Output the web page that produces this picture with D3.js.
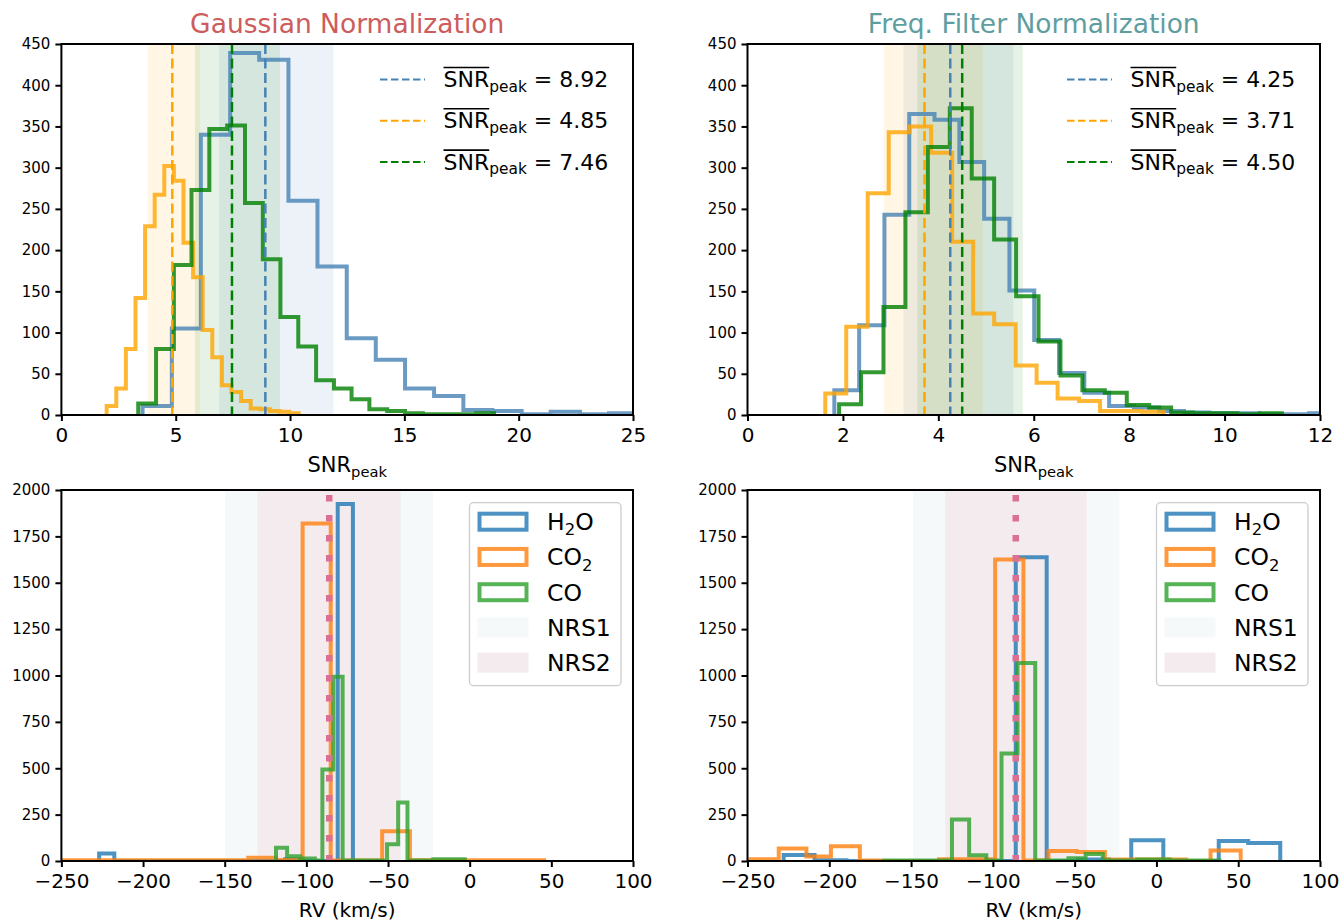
<!DOCTYPE html>
<html>
<head>
<meta charset="utf-8">
<script src="https://cdn.jsdelivr.net/npm/d3@7"></script>
<style>
  body { margin: 0; background: #fff; }
  svg { font-family: "DejaVu Sans", sans-serif; }
</style>
</head>
<body>
<svg id="fig" width="1343" height="921"></svg>
<script>
// ---------------------------------------------------------------------------
// data
// ---------------------------------------------------------------------------

// top row: SNR_peak histograms (blue = H2O, orange = CO2, green = CO)
const gaussSnrEdgesH2O = [3.55, 4.83, 6.10, 7.38, 8.65, 9.93, 11.20, 12.48, 13.75, 15.03, 16.30, 17.58, 18.85, 20.13, 21.40, 22.68, 23.95, 25.23]
const gaussSnrCountsH2O = [11, 105, 340, 439, 431, 260, 180, 93, 67, 32, 23, 6, 5, 1, 4, 1, 2]
const gaussSnrEdgesCO2 = [1.98, 2.40, 2.82, 3.24, 3.66, 4.08, 4.50, 4.92, 5.34, 5.76, 6.18, 6.60, 7.02, 7.44, 7.86, 8.28, 8.70, 9.12, 9.54, 9.96, 10.38]
const gaussSnrCountsCO2 = [11, 32, 80, 142, 229, 267, 302, 284, 209, 167, 103, 70, 36, 28, 17, 8, 7, 5, 4, 2]
const gaussSnrEdgesCO = [3.36, 4.14, 4.92, 5.69, 6.47, 7.25, 8.03, 8.81, 9.58, 10.36, 11.14, 11.92, 12.69, 13.47, 14.25, 15.03, 15.81, 16.58, 17.36, 18.14, 18.92]
const gaussSnrCountsCO = [14, 80, 182, 273, 347, 351, 257, 189, 119, 83, 42, 32, 19, 7, 5, 2, 1, 1, 1, 2]

const freqSnrEdgesH2O = [1.82, 2.34, 2.87, 3.39, 3.92, 4.44, 4.96, 5.49, 6.01, 6.53, 7.06, 7.58, 8.10, 8.63, 9.15, 9.68, 10.20, 10.72, 11.25, 11.77, 12.29]
const freqSnrCountsH2O = [30, 109, 243, 365, 358, 307, 238, 151, 91, 51, 27, 11, 9, 5, 3, 2, 2, 1, 1, 2]
const freqSnrEdgesCO2 = [1.63, 2.07, 2.52, 2.96, 3.40, 3.85, 4.29, 4.73, 5.17, 5.62, 6.06, 6.50, 6.95, 7.39, 7.83, 8.27, 8.72]
const freqSnrCountsCO2 = [26, 107, 269, 343, 350, 318, 210, 123, 110, 60, 39, 20, 17, 5, 5, 4]
const freqSnrEdgesCO = [1.92, 2.38, 2.85, 3.31, 3.78, 4.24, 4.70, 5.17, 5.63, 6.10, 6.56, 7.02, 7.49, 7.95, 8.42, 8.88, 9.34, 9.81, 10.27, 10.74, 11.20]
const freqSnrCountsCO = [13, 52, 131, 246, 325, 372, 287, 213, 144, 89, 48, 30, 27, 12, 9, 3, 2, 2, 1, 2]

// mean SNR_peak per species (H2O, CO2, CO) and shaded spread [lo, hi]
const gaussSnrMeans = [8.92, 4.85, 7.46]
const freqSnrMeans = [4.25, 3.71, 4.50]
const gaussSnrSpread = [[6.90, 11.90], [3.77, 6.07], [5.84, 9.56]]
const freqSnrSpread = [[3.27, 5.57], [2.86, 4.93], [3.56, 5.77]]

// bottom row: RV histograms (runs of equal-count bins merged)
const gaussRvEdgesH2O = [-226.9, -217.6, -113.0, -104.0, -80.8, -71.5]
const gaussRvCountsH2O = [40, 0, 10, 0, 1925]
const gaussRvEdgesCO2 = [-250.0, -135.6, -118.6, -102.3, -85.1, -53.6, -36.6, 45.6]
const gaussRvCountsCO2 = [4, 18, 6, 1820, 3, 160, 4]
const gaussRvEdgesCO = [-118.6, -111.8, -103.8, -94.8, -90.2, -83.5, -77.8, -50.6, -43.8, -38.1, -22.3, -3.0]
const gaussRvCountsCO = [72, 25, 14, 3, 493, 993, 3, 90, 315, 3, 9]

const freqRvEdgesH2O = [-227.9, -209.0, -189.5, -86.0, -67.1, -48.0, -29.0, -15.4, 4.2, 38.1, 56.1, 75.7]
const freqRvCountsH2O = [32, 4, 0, 1637, 0, 8, 0, 112, 0, 108, 97]
const freqRvEdgesCO2 = [-248.2, -230.9, -214.0, -199.0, -181.3, -168.6, -132.9, -98.6, -81.3, -66.0, -48.8, -31.5, 18.0, 33.1, 51.5]
const freqRvCountsCO2 = [10, 68, 24, 80, 3, 0, 10, 1626, 3, 54, 48, 8, 0, 56]
const freqRvEdgesCO = [-166.4, -125.0, -114.5, -104.0, -94.7, -84.9, -74.1, -53.8, -43.3, -32.8, -11.8, 8.1, 38.5]
const freqRvCountsCO = [3, 224, 31, 3, 579, 1068, 3, 15, 38, 3, 8, 3]

// detector RV ranges [lo, hi] and reference RV
const gaussNrs1 = [-149.7, -22.4]
const gaussNrs2 = [-130.0, -42.3]
const freqNrs1 = [-148.9, -22.7]
const freqNrs2 = [-129.2, -42.6]
const rvSystemic = -86.0

// axes ticks and labels
const snrTicksGauss = [0, 5, 10, 15, 20, 25]
const snrTicksFreq = [0, 2, 4, 6, 8, 10, 12]
const countTicksSnr = [0, 50, 100, 150, 200, 250, 300, 350, 400, 450]
const rvTicks = [-250, -200, -150, -100, -50, 0, 50, 100]
const countTicksRv = [0, 250, 500, 750, 1000, 1250, 1500, 1750, 2000]
const panelTitles = ['Gaussian Normalization', 'Freq. Filter Normalization']
const speciesLabels = [['H', '2', 'O'], ['CO', '2', ''], ['CO', '', '']]
const bandLabels = ['NRS1', 'NRS2']

// ---------------------------------------------------------------------------
// styling
// ---------------------------------------------------------------------------
const snrColors = ['#4682b4', '#ffa500', '#008000']      // steelblue, orange, green
const rvColors = ['#1f77b4', '#ff7f0e', '#2ca02c']       // tab10
const titleColors = ['#cd5c5c', '#5f9ea0']
const nrsColors = ['#f5f9fa', '#f4ebef']
const sysColor = '#db7093'

const COLS = [[61.4, 633], [747.5, 1320]]
const ROWS = [[44, 415], [490, 861]]

const svg = d3.select('#fig')
const fmtTick = d3.format('d')   // plain integers, no thousands separator

// step outline of a histogram, like histtype='step'
const stepPath = (x, y, edges, counts) => {
    const pts = [[edges[0], 0]]
    counts.forEach((c, i) => { pts.push([edges[i], c], [edges[i + 1], c]) })
    pts.push([edges[edges.length - 1], 0])
    return d3.line().x(d => x(d[0])).y(d => y(d[1]))(pts)
}

let clipCount = 0
const newPanel = (col, row, xDomain, yDomain) => {
    const [x0, x1] = COLS[col]
    const [y0, y1] = ROWS[row]
    const x = d3.scaleLinear().domain(xDomain).range([x0, x1])
    const y = d3.scaleLinear().domain(yDomain).range([y1, y0])
    const id = `clip-${clipCount++}`
    svg.append('clipPath').attr('id', id).append('rect')
        .attr('x', x0).attr('y', y0).attr('width', x1 - x0).attr('height', y1 - y0)
    const plot = svg.append('g').attr('clip-path', `url(#${id})`)
    return { x, y, plot, x0, x1, y0, y1 }
}

const drawAxes = (p, xTicks, yTicks) => {
    const gx = svg.append('g').attr('transform', `translate(0,${p.y1})`)
        .call(d3.axisBottom(p.x).tickValues(xTicks).tickFormat(fmtTick)
            .tickSize(6).tickSizeOuter(0).tickPadding(7))
    gx.selectAll('text').attr('font-size', 20).attr('font-family', 'DejaVu Sans').attr('fill', '#000')
    const gy = svg.append('g').attr('transform', `translate(${p.x0},0)`)
        .call(d3.axisLeft(p.y).tickValues(yTicks).tickFormat(fmtTick)
            .tickSize(6).tickSizeOuter(0).tickPadding(5))
    gy.selectAll('text').attr('font-size', 15).attr('font-family', 'DejaVu Sans').attr('fill', '#000')
    svg.selectAll('.domain').remove()
    ;[gx, gy].forEach(g => g.selectAll('.tick line').attr('stroke', '#000').attr('stroke-width', 2))
    // frame, all four spines
    svg.append('rect')
        .attr('x', p.x0).attr('y', p.y0)
        .attr('width', p.x1 - p.x0).attr('height', p.y1 - p.y0)
        .attr('fill', 'none').attr('stroke', '#000').attr('stroke-width', 2)
}

// text with a subscript part: parts = [main, sub, rest]
const subText = (sel, parts, fs) => {
    sel.append('tspan').text(parts[0])
    if (parts[1]) sel.append('tspan').attr('font-size', fs * 0.7).attr('dy', fs * 0.22).text(parts[1])
    if (parts[2]) sel.append('tspan').attr('dy', parts[1] ? -fs * 0.22 : 0).text(parts[2])
    return sel
}

// ---------------------------------------------------------------------------
// top row: SNR_peak
// ---------------------------------------------------------------------------
const snrPanel = (col, xMax, xTicks, edges, counts, means, spread) => {
    const p = newPanel(col, 0, [0, xMax], [0, 450])
    spread.forEach((s, i) => {
        p.plot.append('rect')
            .attr('x', p.x(s[0])).attr('width', p.x(s[1]) - p.x(s[0]))
            .attr('y', p.y0).attr('height', p.y1 - p.y0)
            .attr('fill', snrColors[i]).attr('fill-opacity', 0.1)
    })
    edges.forEach((e, i) => {
        p.plot.append('path')
            .attr('d', stepPath(p.x, p.y, e, counts[i]))
            .attr('fill', 'none').attr('stroke', snrColors[i])
            .attr('stroke-opacity', 0.8).attr('stroke-width', 4)
            .attr('stroke-linejoin', 'miter')
    })
    means.forEach((m, i) => {
        p.plot.append('line')
            .attr('x1', p.x(m)).attr('x2', p.x(m)).attr('y1', p.y0).attr('y2', p.y1)
            .attr('stroke', snrColors[i]).attr('stroke-width', 2.5)
            .attr('stroke-dasharray', '10 4.5')
    })
    drawAxes(p, xTicks, countTicksSnr)

    // legend, no frame
    means.forEach((m, i) => {
        const ly = 79.5 + i * 41.3
        svg.append('line')
            .attr('x1', p.x1 - 253).attr('x2', p.x1 - 208).attr('y1', ly).attr('y2', ly)
            .attr('stroke', snrColors[i]).attr('stroke-width', 2).attr('stroke-dasharray', '7.5 3.5')
        const t = svg.append('text').attr('x', p.x1 - 189.5).attr('y', ly + 7.5).attr('font-size', 22)
        subText(t, ['SNR', 'peak', ` = ${m.toFixed(2)}`], 22)
        const w = t.node().getSubStringLength(0, 3)
        svg.append('line')
            .attr('x1', p.x1 - 189.5).attr('x2', p.x1 - 189.5 + w)
            .attr('y1', ly - 12).attr('y2', ly - 12)
            .attr('stroke', '#000').attr('stroke-width', 1.6)
    })

    const xl = svg.append('text').attr('x', (p.x0 + p.x1) / 2).attr('y', 472)
        .attr('text-anchor', 'middle').attr('font-size', 21)
    subText(xl, ['SNR', 'peak', ''], 21)

    svg.append('text').attr('x', (p.x0 + p.x1) / 2).attr('y', 33)
        .attr('text-anchor', 'middle').attr('font-size', 26.5)
        .attr('fill', titleColors[col]).text(panelTitles[col])
}

snrPanel(0, 25, snrTicksGauss,
    [gaussSnrEdgesH2O, gaussSnrEdgesCO2, gaussSnrEdgesCO],
    [gaussSnrCountsH2O, gaussSnrCountsCO2, gaussSnrCountsCO],
    gaussSnrMeans, gaussSnrSpread)
snrPanel(1, 12, snrTicksFreq,
    [freqSnrEdgesH2O, freqSnrEdgesCO2, freqSnrEdgesCO],
    [freqSnrCountsH2O, freqSnrCountsCO2, freqSnrCountsCO],
    freqSnrMeans, freqSnrSpread)

// ---------------------------------------------------------------------------
// bottom row: RV
// ---------------------------------------------------------------------------
const rvPanel = (col, edges, counts, nrs) => {
    const p = newPanel(col, 1, [-250, 100], [0, 2000])
    nrs.forEach((r, i) => {
        p.plot.append('rect')
            .attr('x', p.x(r[0])).attr('width', p.x(r[1]) - p.x(r[0]))
            .attr('y', p.y0).attr('height', p.y1 - p.y0)
            .attr('fill', nrsColors[i])
    })
    edges.forEach((e, i) => {
        p.plot.append('path')
            .attr('d', stepPath(p.x, p.y, e, counts[i]))
            .attr('fill', 'none').attr('stroke', rvColors[i])
            .attr('stroke-opacity', 0.8).attr('stroke-width', 4)
    })
    p.plot.append('line')
        .attr('x1', p.x(rvSystemic)).attr('x2', p.x(rvSystemic))
        .attr('y1', p.y0).attr('y2', p.y1)
        .attr('stroke', sysColor).attr('stroke-width', 6.5)
        .attr('stroke-dasharray', '6.5 13.5').attr('stroke-dashoffset', -5)
    drawAxes(p, rvTicks, countTicksRv)

    // legend with frame
    const bx = p.x1 - 163.5, by = 502.7
    svg.append('rect').attr('x', bx).attr('y', by).attr('width', 151.5).attr('height', 183)
        .attr('rx', 4).attr('fill', '#fff').attr('fill-opacity', 0.8)
        .attr('stroke', '#cccccc').attr('stroke-width', 1.3)
    const rowY = i => 521.7 + i * 35.25
    speciesLabels.forEach((lab, i) => {
        svg.append('rect').attr('x', bx + 10).attr('y', rowY(i) - 8).attr('width', 47).attr('height', 16)
            .attr('fill', 'none').attr('stroke', rvColors[i]).attr('stroke-opacity', 0.8).attr('stroke-width', 4)
        const t = svg.append('text').attr('x', bx + 77.5).attr('y', rowY(i) + 8.5).attr('font-size', 23.5)
        subText(t, lab, 23.5)
    })
    bandLabels.forEach((lab, j) => {
        const i = j + 3
        svg.append('rect').attr('x', bx + 8).attr('y', rowY(i) - 10).attr('width', 51).attr('height', 20)
            .attr('fill', nrsColors[j])
        svg.append('text').attr('x', bx + 77.5).attr('y', rowY(i) + 8.5).attr('font-size', 23.5).text(lab)
    })

    svg.append('text').attr('x', (p.x0 + p.x1) / 2).attr('y', 917)
        .attr('text-anchor', 'middle').attr('font-size', 20).text('RV (km/s)')
}

rvPanel(0, [gaussRvEdgesH2O, gaussRvEdgesCO2, gaussRvEdgesCO],
    [gaussRvCountsH2O, gaussRvCountsCO2, gaussRvCountsCO], [gaussNrs1, gaussNrs2])
rvPanel(1, [freqRvEdgesH2O, freqRvEdgesCO2, freqRvEdgesCO],
    [freqRvCountsH2O, freqRvCountsCO2, freqRvCountsCO], [freqNrs1, freqNrs2])
</script>
</body>
</html>
